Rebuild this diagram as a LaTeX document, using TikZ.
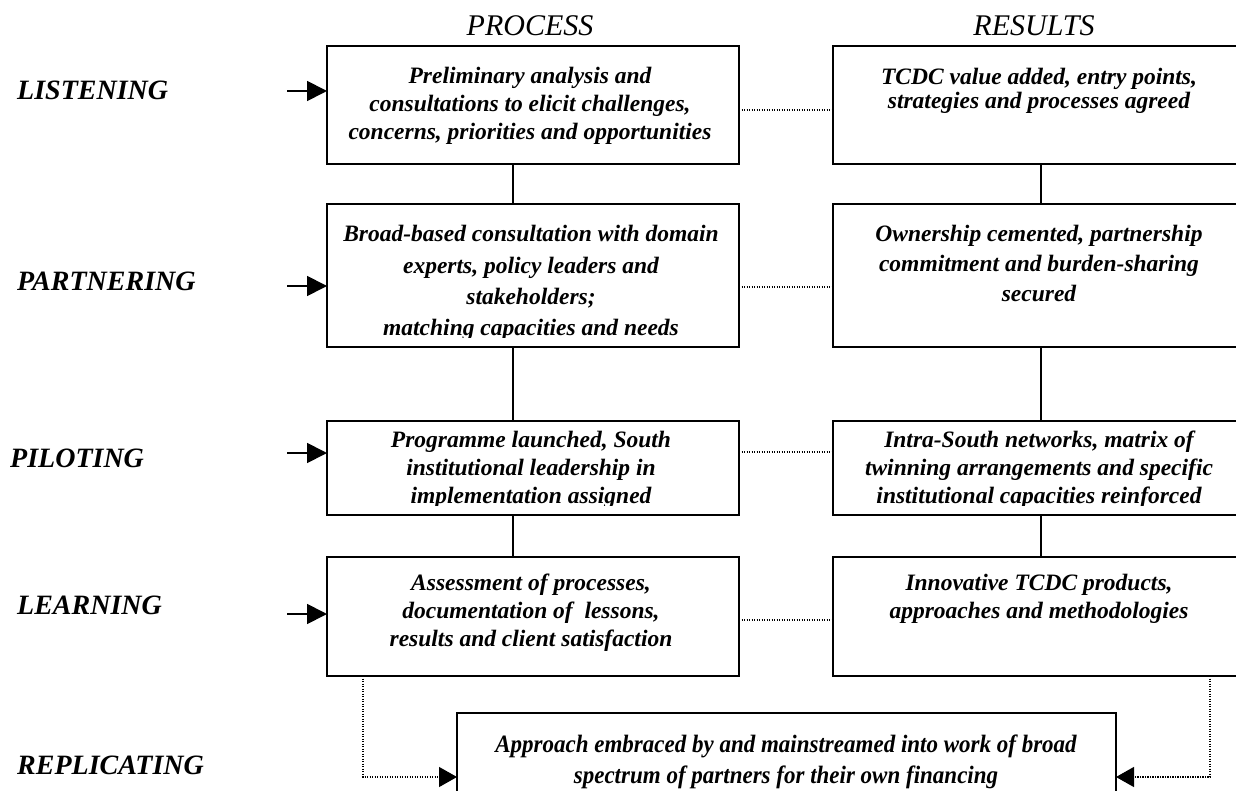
\documentclass[tikz,border=0pt]{standalone}
\usepackage{fontspec}
\setmainfont{Liberation Serif}
\newfontfamily\condfont{Liberation Serif}[FakeStretch=0.92]
\usetikzlibrary{arrows.meta}
\begin{document}
\begin{tikzpicture}[x=1pt,y=-1pt,
  boxnode/.style={draw, line width=1.8pt, inner sep=0pt, outer sep=0pt, anchor=north west},
  boxtext/.style={font=\fontsize{23.5}{#1}\selectfont\bfseries\itshape, align=center, inner sep=0pt, anchor=base},
  stagelabel/.style={font=\fontsize{28}{32}\selectfont\bfseries\itshape, inner sep=0pt, anchor=base west},
  header/.style={font=\fontsize{30}{34}\selectfont\itshape, inner sep=0pt, anchor=base},
  conn/.style={line width=1.8pt},
  dotconn/.style={line width=1.3pt, dash pattern=on 1.2pt off 1.3pt},
  inarrow/.style={line width=1.8pt, -{Triangle[length=20pt,width=20pt]}},
  dottip/.style={-{Triangle[length=18pt,width=20pt]}}
]
\useasboundingbox (0,0) rectangle (1236,791);
\fill[white] (0,0) rectangle (1236,791);
\clip (0,0) rectangle (1236,791);

% headers
\node[header] (hp) at (530,36) {PROCESS};
\node[header] (hr) at (1034,36) {RESULTS};

% stage labels
\node[stagelabel] (s1) at (17,100) {LISTENING};
\node[stagelabel] (s2) at (17,291) {PARTNERING};
\node[stagelabel] (s3) at (10,467) {PILOTING};
\node[stagelabel] (s4) at (17,614) {LEARNING};
\node[stagelabel] (s5) at (17,774) {REPLICATING};

% boxes
\node[boxnode, minimum width=412pt, minimum height=118pt] (L1) at (327,46) {};
\node[boxnode, minimum width=412pt, minimum height=143pt] (L2) at (327,204) {};
\node[boxnode, minimum width=412pt, minimum height=94pt]  (L3) at (327,421) {};
\node[boxnode, minimum width=412pt, minimum height=119pt] (L4) at (327,557) {};
\node[boxnode, minimum width=416pt, minimum height=118pt] (R1) at (833,46) {};
\node[boxnode, minimum width=416pt, minimum height=143pt] (R2) at (833,204) {};
\node[boxnode, minimum width=416pt, minimum height=94pt]  (R3) at (833,421) {};
\node[boxnode, minimum width=416pt, minimum height=119pt] (R4) at (833,557) {};
\node[boxnode, minimum width=659pt, minimum height=110pt] (B)  at (457,713) {};

% box texts (anchor base = baseline of last line)
\node[boxtext=28] (L1t) at (530,140) {Preliminary analysis and\\consultations to elicit challenges,\\concerns, priorities and opportunities};
\begin{scope}
\clip (L2.north west) rectangle ([yshift=9pt]L2.south east);
\node[boxtext=31] (L2t) at (531,335) {Broad-based consultation with domain\\experts, policy leaders and\\stakeholders;\\matching capacities and needs};
\end{scope}
\begin{scope}
\clip (L3.north west) rectangle ([yshift=10pt]L3.south east);
\node[boxtext=28] (L3t) at (531,503) {Programme launched, South\\institutional leadership in\\implementation assigned};
\end{scope}
\node[boxtext=28] (L4t) at (531,646) {Assessment of processes,\\documentation of \ lessons,\\results and client satisfaction};

\node[boxtext=24] (R1t) at (1039,109) {TCDC value added, entry points,\\strategies and processes agreed};
\node[boxtext=30] (R2t) at (1039,302) {Ownership cemented, partnership\\commitment and burden-sharing\\secured};
\begin{scope}
\clip (R3.north west) rectangle ([yshift=10pt]R3.south east);
\node[boxtext=28] (R3t) at (1039,503) {Intra-South networks, matrix of\\twinning arrangements and specific\\institutional capacities reinforced};
\end{scope}
\node[boxtext=28] (R4t) at (1039,618) {Innovative TCDC products,\\approaches and methodologies};

\node[font=\condfont\fontsize{25}{31}\selectfont\bfseries\itshape, align=center, inner sep=0pt, anchor=base] (Bt) at (786,783) {Approach embraced by and mainstreamed into work of broad\\spectrum of partners for their own financing};

% vertical connectors
\coordinate (cl) at (513,0);
\coordinate (cr) at (1041,0);
\draw[conn] (L1.south -| cl) -- (L2.north -| cl);
\draw[conn] (L2.south -| cl) -- (L3.north -| cl);
\draw[conn] (L3.south -| cl) -- (L4.north -| cl);
\draw[conn] (R1.south -| cr) -- (R2.north -| cr);
\draw[conn] (R2.south -| cr) -- (R3.north -| cr);
\draw[conn] (R3.south -| cr) -- (R4.north -| cr);

% dotted links
\coordinate (d1) at (0,110);
\coordinate (d2) at (0,287);
\coordinate (d3) at (0,452);
\coordinate (d4) at (0,620);
\draw[dotconn] (L1.east |- d1) -- (R1.west |- d1);
\draw[dotconn] (L2.east |- d2) -- (R2.west |- d2);
\draw[dotconn] (L3.east |- d3) -- (R3.west |- d3);
\draw[dotconn] (L4.east |- d4) -- (R4.west |- d4);

% incoming arrows
\coordinate (a1) at (287,91);
\coordinate (a2) at (287,286);
\coordinate (a3) at (287,453);
\coordinate (a4) at (287,614);
\draw[inarrow] (a1) -- (L1.west |- a1);
\draw[inarrow] (a2) -- (L2.west |- a2);
\draw[inarrow] (a3) -- (L3.west |- a3);
\draw[inarrow] (a4) -- (L4.west |- a4);

% replication links
\coordinate (q1) at (363,777);
\coordinate (q2) at (1210,777);
\draw[dotconn, dottip] (L4.south -| q1) -- (q1) -- (B.west |- q1);
\draw[dotconn, dottip] (R4.south -| q2) -- (q2) -- (B.east |- q2);
\end{tikzpicture}
\end{document}
